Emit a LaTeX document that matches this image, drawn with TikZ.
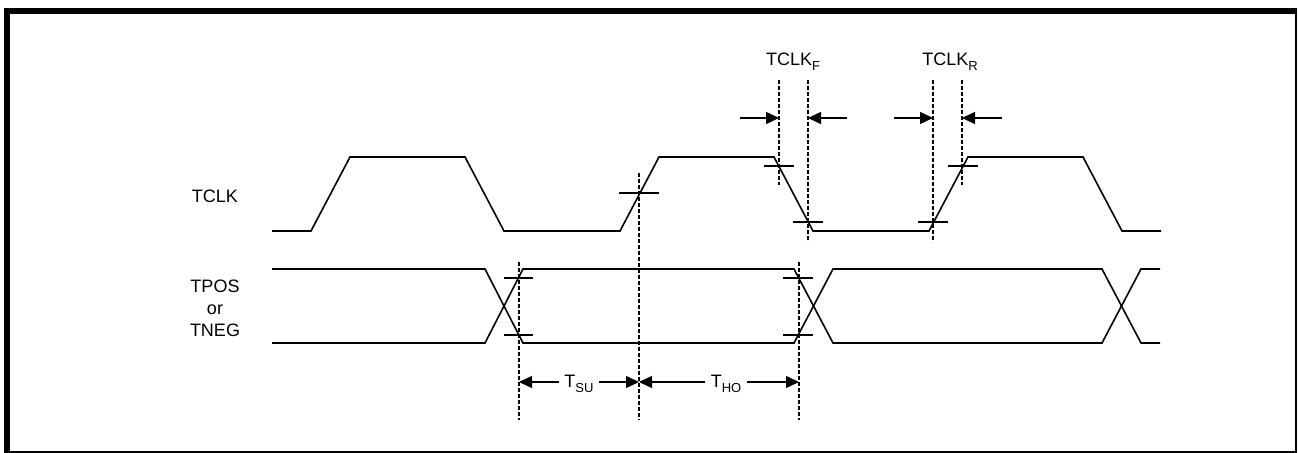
\documentclass[tikz,border=0pt]{standalone}
\usepackage{fontspec}
\setmainfont{Liberation Sans}
\usetikzlibrary{arrows.meta}

\newcommand{\lowsub}[1]{\raisebox{-2.5pt}{\fontsize{6.5}{7}\selectfont #1}}

\begin{document}
\begin{tikzpicture}[x=0.5pt,y=-0.5pt,
  wave/.style={line width=0.8pt},
  guide/.style={line width=0.6pt, dash pattern=on 2pt off 1pt},
  tickline/.style={line width=0.7pt},
  dim/.style={line width=0.7pt, -{Triangle[length=6.5pt,width=6pt]}},
  lbl/.style={font=\fontsize{9}{11}\selectfont, inner sep=0pt}]
\useasboundingbox (0,0) rectangle (1298,453);
% frame
\fill (4,8) rectangle (1297,14);
\fill (4,8) rectangle (10,453);
\fill (1295,8) rectangle (1297,453);
\fill (4,451) rectangle (1297,453);
% signal names
\node[lbl] (tclk) at (215,196) {TCLK};
\node[lbl, align=center] (tdata) at (215,308) {TPOS\\or\\TNEG};
% TCLK
\draw[wave] (272,231) foreach \p in {0,309,618} {
  -- (311+\p,231) -- (350+\p,157) -- (465+\p,157) -- (504+\p,231)} -- (1161,231);
% TPOS / TNEG
\draw[wave] (272,269) -- (485,269) -- (523,343) -- (794,343) -- (833,269)
  -- (1102,269) -- (1141,343) -- (1160,343);
\draw[wave] (272,343) -- (485,343) -- (523,269) -- (794,269) -- (833,343)
  -- (1102,343) -- (1141,269) -- (1160,269);
% timing guides
\draw[guide] (519,262) -- (519,420);
\draw[guide] (639,173) -- (639,420);
\draw[guide] (799,262) -- (799,420);
\draw[guide] (779,80) -- (779,185);
\draw[guide] (808,80) -- (808,242);
\draw[guide] (933,80) -- (933,242);
\draw[guide] (962,80) -- (962,185);
% level marks
\foreach \x/\y/\w in {764/166/30, 793/222/30, 918/222/30, 948/166/30, 619/193/40,
                      504/278/29, 504/335/29, 783/278/30, 783/335/30}
  \draw[tickline] (\x,\y) -- +(\w,0);
% clock edge widths
\node[lbl, anchor=base] (tclkf) at (793,66) {TCLK\lowsub{F}};
\node[lbl, anchor=base] (tclkr) at (950,66) {TCLK\lowsub{R}};
\draw[dim] (740,118) -- (779,118);
\draw[dim] (847,118) -- (808,118);
\draw[dim] (894,118) -- (933,118);
\draw[dim] (1002,118) -- (962,118);
% setup and hold
\coordinate (g1) at (519,382);
\coordinate (g2) at (639,382);
\coordinate (g3) at (799,382);
\node[lbl, anchor=base, inner xsep=2.5pt] (tsu) at (579,388) {T\lowsub{SU}};
\node[lbl, anchor=base, inner xsep=2.5pt] (tho) at (726,388) {T\lowsub{HO}};
\draw[dim] (tsu.west |- g1) -- (g1);
\draw[dim] (tsu.east |- g1) -- (g2);
\draw[dim] (tho.west |- g2) -- (g2);
\draw[dim] (tho.east |- g3) -- (g3);
\end{tikzpicture}
\end{document}
